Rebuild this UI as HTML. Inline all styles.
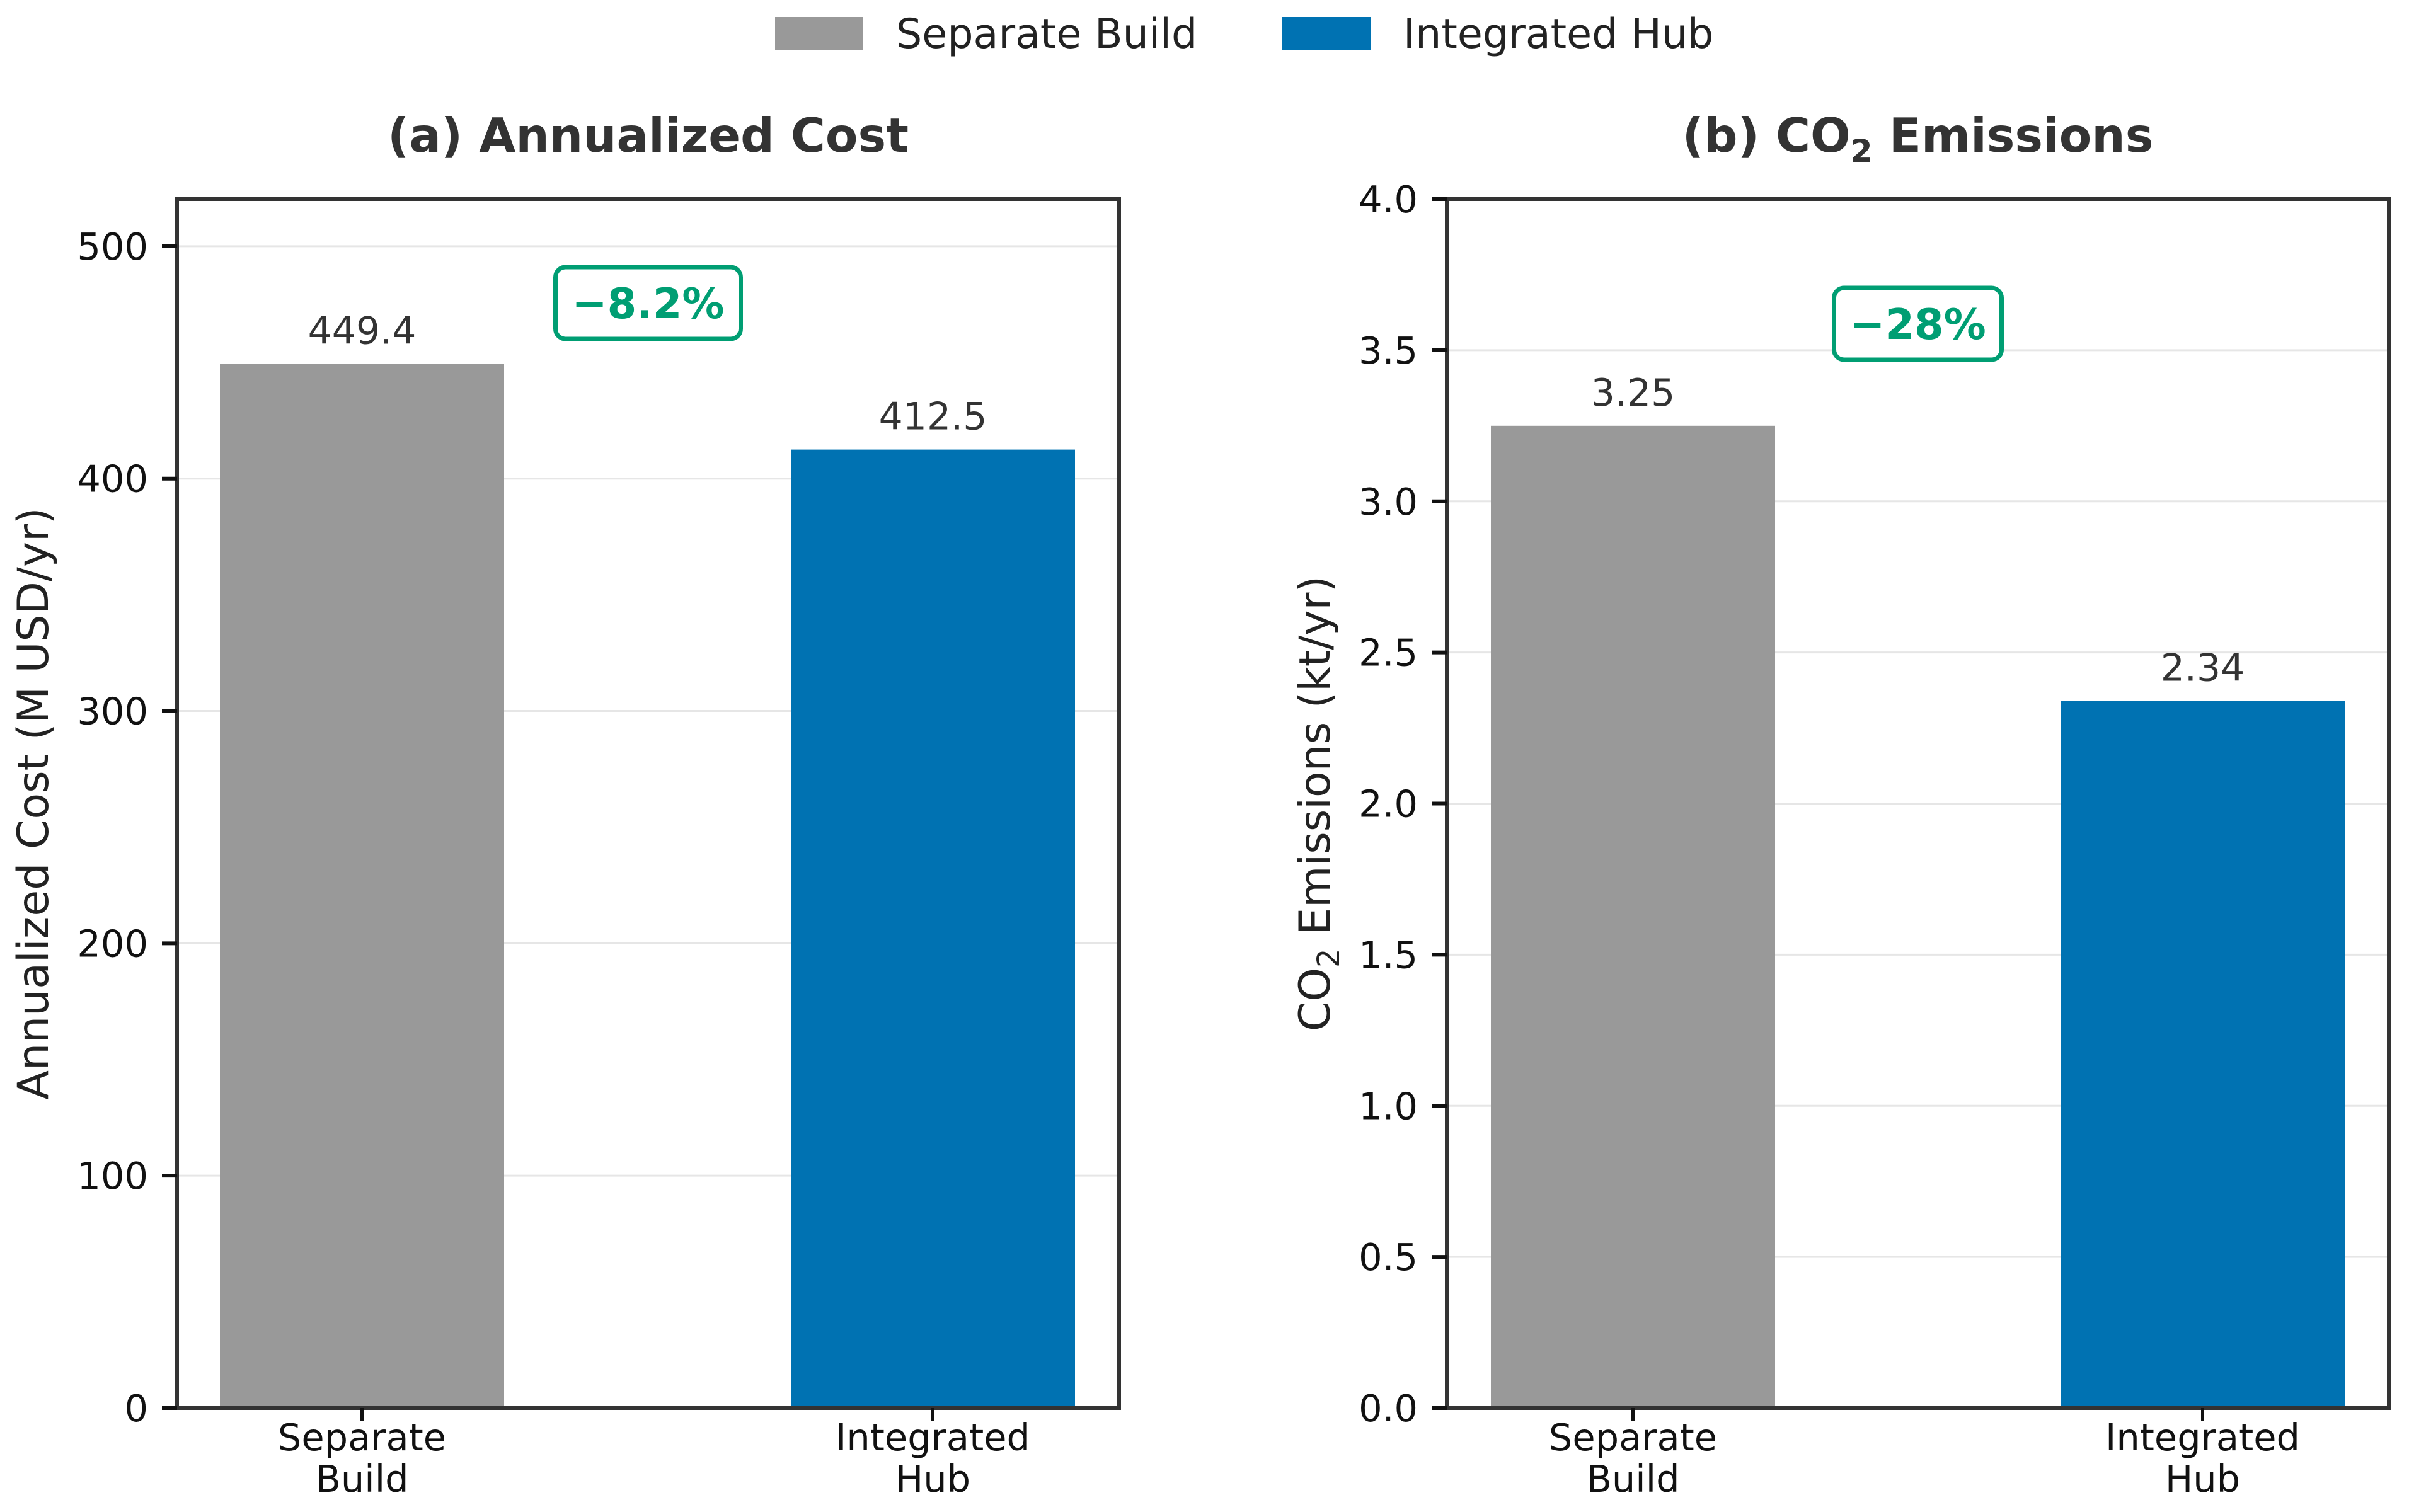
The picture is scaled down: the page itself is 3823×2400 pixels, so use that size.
<!DOCTYPE html>
<html><head><meta charset="utf-8"><style>
html,body{margin:0;padding:0;background:#fff}
svg{display:block}
text{font-family:"DejaVu Sans","Liberation Sans",sans-serif}
</style></head><body>
<svg id="chart" width="3823" height="2400" viewBox="0 0 3823 2400" xmlns="http://www.w3.org/2000/svg">
<g>
<rect x="1230" y="27" width="140" height="52" fill="#999999"/>
<text x="1422" y="76" font-size="65" fill="#222">Separate Build</text>
<rect x="2035" y="27" width="140" height="52" fill="#0072B2"/>
<text x="2227" y="76" font-size="65" fill="#222">Integrated Hub</text>
</g>
</svg>
<script>
const categories = ["Separate\nBuild", "Integrated\nHub"];
const costValues = [449.4, 412.5];
const co2Values = [3.25, 2.34];
const costLabels = ["449.4", "412.5"];
const co2Labels = ["3.25", "2.34"];
const costTicks = [0, 100, 200, 300, 400, 500];
const co2Ticks = [0.0, 0.5, 1.0, 1.5, 2.0, 2.5, 3.0, 3.5, 4.0];
const costAnnot = "\u22128.2%";
const co2Annot = "\u221228%";
const barColors = ["#999999", "#0072B2"];

const NS = "http://www.w3.org/2000/svg";
const svg = document.getElementById('chart');
function mk(tag, attrs, parent, txt){
  const e = document.createElementNS(NS, tag);
  for (const k in attrs) e.setAttribute(k, attrs[k]);
  if (txt !== undefined) e.textContent = txt;
  (parent || svg).appendChild(e);
  return e;
}

function panel(cfg){
  const g = mk('g', {});
  
  
  const L = cfg.left, R = cfg.right, T = 316, B = 2235;
  const y = v => B - (v - 0) / (cfg.ymax - 0) * (B - T);
  const xc = i => cfg.c0 + i * (cfg.c1 - cfg.c0);
  const bw = cfg.bw;
  cfg.ticks.forEach(t => {
    const ln = mk('line', {x1: L, x2: R, y1: y(t), y2: y(t), stroke: '#e6e6e6', 'stroke-width': 3}, g);
    
    
  });
  cfg.values.forEach((v, i) => {
    const r = mk('rect', {x: xc(i) - bw/2, y: y(v), width: bw, height: B - y(v), fill: barColors[i]}, g);
    
    
    const t = mk('text', {x: xc(i), y: y(v) - 32, 'text-anchor': 'middle', 'font-size': 60, fill: '#333'}, g, cfg.labels[i]);
    
    
    const lines = categories[i].split('\n');
    lines.forEach((s, j) => {
      const xl = mk('text', {x: xc(i), y: 2302 + j * 66, 'text-anchor': 'middle', 'font-size': 59, fill: '#111'}, g, s);
      
      
    });
  });
  const sp = mk('rect', {x: L, y: T, width: R - L, height: B - T, fill: 'none', stroke: '#333', 'stroke-width': 6}, g);
  
  
  cfg.ticks.forEach(t => {
    const tk = mk('line', {x1: L - 24, x2: L, y1: y(t), y2: y(t), stroke: '#111', 'stroke-width': 6}, g);
    
    
    const tl = mk('text', {x: L - 46, y: y(t) + 21, 'text-anchor': 'end', 'font-size': 59, fill: '#111'}, g, cfg.fmt(t));
    
    
  });
  [0,1].forEach(i => {
    const tk = mk('line', {x1: xc(i), x2: xc(i), y1: B, y2: B + 20, stroke: '#111', 'stroke-width': 5}, g);
    
    
  });
  const cx = (L + R) / 2;
  const ti = mk('text', {x: cx, y: 241, 'text-anchor': 'middle', 'font-size': 75, 'font-weight': 'bold', fill: '#333'}, g);
  
  
  cfg.title(ti);
  const yl = mk('text', {transform: 'translate(' + cfg.ylx + ',' + ((T + B) / 2) + ') rotate(-90)', 'text-anchor': 'middle', 'font-size': 68, fill: '#222'}, g);
  
  
  cfg.ylabel(yl);
  const bx = mk('rect', {x: cx - cfg.boxW/2, y: cfg.boxY, width: cfg.boxW, height: 114, rx: 16, fill: '#fff', stroke: '#009E73', 'stroke-width': 7}, g);
  
  
  const at = mk('text', {x: cx, y: cfg.boxY + 81, 'text-anchor': 'middle', 'font-size': 67, 'font-weight': 'bold', fill: '#009E73'}, g, cfg.annot);
  
  
}

panel({name: 'cost-panel', left: 281, right: 1776, ymax: 520.3, c0: 574.5, c1: 1480.5, bw: 451,
  values: costValues, labels: costLabels, ticks: costTicks, fmt: t => String(t), ylx: 76, boxY: 424, boxW: 294, annot: costAnnot,
  title: el => { el.textContent = '(a) Annualized Cost'; },
  ylabel: el => { el.textContent = 'Annualized Cost (M USD/yr)'; }});

panel({name: 'co2-panel', left: 2296, right: 3791, ymax: 4.0, c0: 2591.5, c1: 3495.5, bw: 451,
  values: co2Values, labels: co2Labels, ticks: co2Ticks, fmt: t => t.toFixed(1), ylx: 2110, boxY: 457, boxW: 266, annot: co2Annot,
  title: el => {
    mk('tspan', {}, el, '(b) CO');
    mk('tspan', {dy: 16, 'font-size': 50}, el, '2');
    mk('tspan', {dy: -16}, el, ' Emissions');
  },
  ylabel: el => {
    mk('tspan', {}, el, 'CO');
    mk('tspan', {dy: 15, 'font-size': 48}, el, '2');
    mk('tspan', {dy: -15}, el, ' Emissions (kt/yr)');
  }});
</script>
</body></html>
